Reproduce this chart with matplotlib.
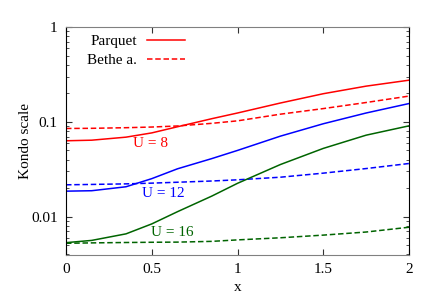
import matplotlib
matplotlib.use('Agg')
import matplotlib.pyplot as plt
from matplotlib.ticker import LogLocator, NullFormatter, FixedLocator

plt.rcParams['font.family'] = ['Liberation Serif', 'DejaVu Serif']

# values
x = [0, 0.15, 0.35, 0.5, 0.65, 0.85, 1.0, 1.25, 1.5, 1.75, 2.0]
parquet_u8 = [0.0632, 0.0641, 0.0690, 0.0765, 0.0888, 0.1080, 0.124, 0.158, 0.198, 0.238, 0.275]
bethe_u8 = [0.0852, 0.0855, 0.0868, 0.0882, 0.0905, 0.0965, 0.1025, 0.1205, 0.138, 0.160, 0.187]
parquet_u12 = [0.0186, 0.0188, 0.0207, 0.0252, 0.0320, 0.0410, 0.0500, 0.0707, 0.0955, 0.124, 0.156]
bethe_u12 = [0.0217, 0.0219, 0.0222, 0.0226, 0.0231, 0.0238, 0.0245, 0.0261, 0.0288, 0.0322, 0.0364]
parquet_u16 = [0.00533, 0.00563, 0.0066, 0.0084, 0.0113, 0.0165, 0.0225, 0.0355, 0.0525, 0.0724, 0.0908]
bethe_u16 = [0.00525, 0.0053, 0.00535, 0.00538, 0.0054, 0.0055, 0.0057, 0.0060, 0.0064, 0.0069, 0.00775]

red = '#ff0000'
blue = '#0000ff'
green = '#006400'

fig = plt.figure(figsize=(4.36, 3.05), dpi=100)
ax = fig.add_axes([66/436, 1-255/305, 343/436, 228/305])

dash = (3.6, 1.8)
ax.plot(x, parquet_u8, '-', color=red, lw=1.1, label='Parquet')
ax.plot(x, bethe_u8, '--', color=red, lw=1.1, dashes=dash, label='Bethe a.')
ax.plot(x, parquet_u12, '-', color=blue, lw=1.1)
ax.plot(x, bethe_u12, '--', color=blue, lw=1.1, dashes=dash)
ax.plot(x, parquet_u16, '-', color=green, lw=1.1)
ax.plot(x, bethe_u16, '--', color=green, lw=1.1, dashes=dash)

ax.set_yscale('log')
ax.set_xlim(0, 2)
ax.set_ylim(0.00395, 1)
ax.xaxis.set_major_locator(FixedLocator([0, 0.5, 1, 1.5, 2]))
ax.set_xticklabels(['0', '0.5', '1', '1.5', '2'])
ax.yaxis.set_major_locator(FixedLocator([0.01, 0.1, 1]))
ax.set_yticklabels(['0.01', '0.1', '1'])
ax.yaxis.set_minor_locator(LogLocator(base=10, subs=range(2, 10)))
ax.yaxis.set_minor_formatter(NullFormatter())
ax.tick_params(which='both', direction='in', top=True, right=True, labelsize=11, color='#333333')
ax.tick_params(which='major', length=4, pad=6)
ax.tick_params(which='minor', length=2)

for side in ['left', 'right']:
    ax.spines[side].set_color('black')
for side in ['top', 'bottom']:
    ax.spines[side].set_color('#808080')

ax.set_xlabel('x', fontsize=11, labelpad=3.5)
ax.set_ylabel('Kondo scale', fontsize=11, labelpad=-1)

ax.text(0.49, 0.0597, 'U = 8', color=red, fontsize=11, ha='center', va='center')
ax.text(0.566, 0.0177, 'U = 12', color=blue, fontsize=11, ha='center', va='center')
ax.text(0.618, 0.0069, 'U = 16', color=green, fontsize=11, ha='center', va='center')

leg = ax.legend(loc='upper left', bbox_to_anchor=(0.0225, 1.028), frameon=False, fontsize=11,
                markerfirst=False, handlelength=2.55, handletextpad=0.6, labelspacing=0.35)
for t in leg.get_texts():
    t.set_ha('right')

fig.savefig('out.png', dpi=100)
